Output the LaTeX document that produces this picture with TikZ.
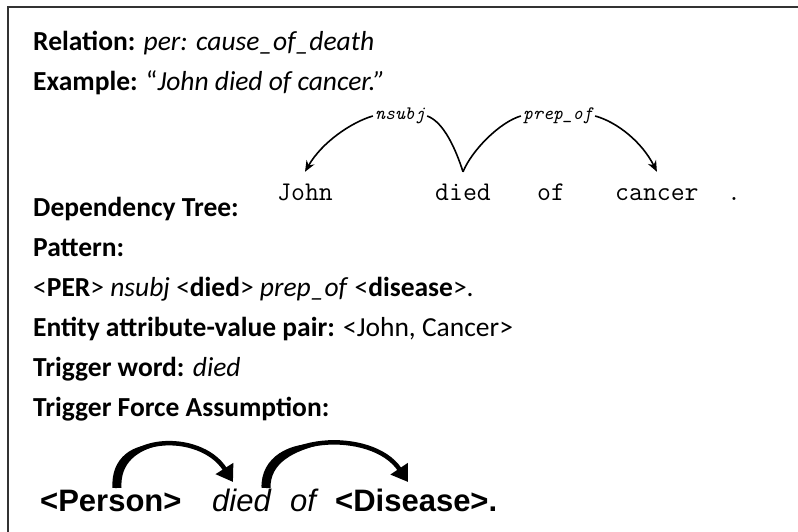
\documentclass[tikz,border=0pt]{standalone}
\usepackage{fontspec}
\setmainfont{Carlito}
\newfontfamily\arialfont{Liberation Sans}
\usetikzlibrary{arrows.meta, positioning}

\begin{document}
\begin{tikzpicture}[x=1pt, y=1pt,
        line/.style={anchor=base west, inner sep=0pt, font=\fontsize{27.5}{32}\selectfont},
        word/.style={anchor=base west, inner xsep=0pt, inner ysep=12pt, text height=17pt, font=\ttfamily\fontsize{27}{30}\selectfont},
        dep/.style={inner sep=2pt, font=\ttfamily\itshape\fontsize{19}{22}\selectfont},
        force/.style={anchor=base west, inner sep=0pt, font=\arialfont\fontsize{31}{36}\selectfont},
        arc/.style={-{Stealth[length=11pt, width=9pt]}, line width=1.6pt},
        bigarc/.style={-{Triangle[length=16pt, width=20pt]}, line width=4.5pt}
    ]
    \useasboundingbox (0,0) rectangle (798,532);
    \draw[line width=2pt, black!80] (8,0) -- (8,525) -- (798,525);

    \node[line] (rel) at (33,481) {\textbf{Relation:} \textit{per: cause\_of\_death}};
    \node[line] (ex) at (33,441) {\textbf{Example:} “\textit{John died of cancer.”}};
    \node[line] (tree) at (33,315) {\textbf{Dependency Tree:}};
    \node[line] (pat) at (33,275) {\textbf{Pattern:}};
    \node[line] (patline) at (33,235) {<\textbf{PER}> \textit{nsubj} <\textbf{died}> \textit{prep\_of} <\textbf{disease}>.};
    \node[line] (pair) at (33,195) {\textbf{Entity attribute-value pair:} <John, Cancer>};
    \node[line] (trig) at (33,155) {\textbf{Trigger word:} \textit{died}};
    \node[line] (tfa) at (33,115) {\textbf{Trigger Force Assumption:}};

    % dependency tree
    \node[word] (john) at (277,331) {John};
    \node[word] (died) at (435,331) {died};
    \node[word] (of) at (537,331) {of};
    \node[word] (cancer) at (615,331) {cancer};
    \node[word] (dot) at (727,331) {.};
    \node[dep] (nsubj) at (400,416) {nsubj};
    \node[dep] (prepof) at (558,416) {prep\_of};

    \draw[line width=1.6pt] (died.north) .. controls (456,382) and (444,410) .. (nsubj.east);
    \draw[arc] (nsubj.west) .. controls (352,410) and (322,390) .. (john.north);
    \draw[line width=1.6pt] (died.north) .. controls (472,382) and (500,410) .. (prepof.west);
    \draw[arc] (prepof.east) .. controls (617,410) and (642,390) .. (cancer.north);

    % trigger force
    \node[force] (person) at (40,20) {\textbf{<Person>}};
    \node[force] (died2) at (212,20) {\textit{died}};
    \node[force] (of2) at (290,20) {\textit{of}};
    \node[force] (disease) at (335,20) {\textbf{<Disease>.}};
    \draw[bigarc] (117,44) .. controls (113,98) and (200,102) .. (233,50);
    \fill (112.5,44) .. controls (110.5,74) and (133,90) .. (161,87) .. controls (137,82) and (120,69) .. (121.5,44) -- cycle;
    \draw[bigarc] (266,44) .. controls (266,98) and (372,104) .. (408,50);
    \fill (261.5,44) .. controls (260.5,75) and (290,91) .. (323,88) .. controls (293,81) and (270,69) .. (270.5,44) -- cycle;
\end{tikzpicture}
\end{document}
